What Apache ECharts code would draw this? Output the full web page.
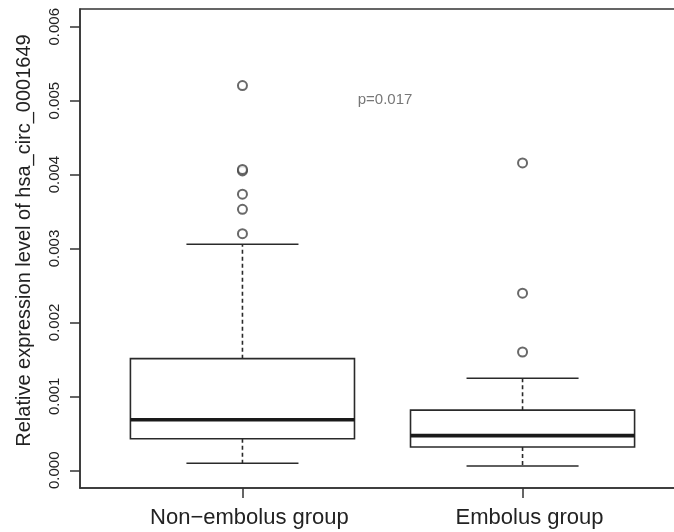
<!DOCTYPE html>
<html>
<head>
<meta charset="utf-8">
<script src="https://cdn.jsdelivr.net/npm/echarts@6/dist/echarts.min.js"></script>
<style>
html,body{margin:0;padding:0;background:#fff;}
#chart{width:674px;height:532px;}
</style>
</head>
<body>
<div id="chart"></div>
<script>
// ---- data ----
var categories = ['Non\u2212embolus group', 'Embolus group'];
// [lower whisker, Q1, median, Q3, upper whisker]
var nonEmbolusStats = [0.000094, 0.000427, 0.000684, 0.00151, 0.003057];
var embolusStats = [0.000058, 0.000314, 0.000468, 0.000813, 0.001245];
var nonEmbolusOutliers = [0.00320, 0.00353, 0.003735, 0.00405, 0.00407, 0.005204];
var embolusOutliers = [0.00160, 0.002396, 0.004157];
var yTicks = [0, 0.001, 0.002, 0.003, 0.004, 0.005, 0.006];
var pLabel = 'p=0.017';

var boxData = [[1].concat(nonEmbolusStats), [2].concat(embolusStats)];
var outlierData = nonEmbolusOutliers.map(function (v) { return [1, v]; })
  .concat(embolusOutliers.map(function (v) { return [2, v]; }));

var stroke = '#2a2a2a';
function renderBox(params, api) {
  var x = api.value(0);
  var lo = api.coord([x, api.value(1)]);
  var q1 = api.coord([x, api.value(2)]);
  var md = api.coord([x, api.value(3)]);
  var q3 = api.coord([x, api.value(4)]);
  var hi = api.coord([x, api.value(5)]);
  var w = api.size([0.8, 0])[0];
  var cw = w / 2;
  var cx = q1[0];
  var lineStyle = { stroke: stroke, lineWidth: 1.6, fill: null };
  var dashStyle = { stroke: stroke, lineWidth: 1.6, lineDash: [4, 3] };
  return {
    type: 'group',
    children: [
      { type: 'line', shape: { x1: cx, y1: q3[1], x2: cx, y2: hi[1] }, style: dashStyle },
      { type: 'line', shape: { x1: cx, y1: q1[1], x2: cx, y2: lo[1] }, style: dashStyle },
      { type: 'line', shape: { x1: cx - cw / 2, y1: hi[1], x2: cx + cw / 2, y2: hi[1] }, style: lineStyle },
      { type: 'line', shape: { x1: cx - cw / 2, y1: lo[1], x2: cx + cw / 2, y2: lo[1] }, style: lineStyle },
      { type: 'rect', shape: { x: cx - w / 2, y: q3[1], width: w, height: q1[1] - q3[1] }, style: { stroke: stroke, lineWidth: 1.6, fill: '#fff' } },
      { type: 'line', shape: { x1: cx - w / 2, y1: md[1], x2: cx + w / 2, y2: md[1] }, style: { stroke: '#1a1a1a', lineWidth: 3.6 } }
    ]
  };
}

var chart = echarts.init(document.getElementById('chart'), null, { renderer: 'canvas' });
var font = '"Liberation Sans", Arial, sans-serif';
chart.setOption({
  animation: false,
  backgroundColor: '#fff',
  textStyle: { fontFamily: font },
  grid: { left: 80, top: 9, width: 605, height: 479, outerBoundsMode: 'none', containLabel: false,
    show: true, borderColor: '#333', borderWidth: 1.5, backgroundColor: 'transparent' },
  xAxis: {
    type: 'value', min: 0.42, max: 2.58,
    splitLine: { show: false },
    axisLine: { show: true, onZero: false, lineStyle: { color: '#333', width: 1.5 } },
    axisTick: { show: true, customValues: [1, 2], length: 10, lineStyle: { color: '#333', width: 1.5 } },
    axisLabel: { customValues: [1, 2], formatter: function (v) { return categories[Math.round(v) - 1]; },
      fontSize: 22, color: '#222', margin: 19, padding: [0, 0, 0, 14], fontFamily: font }
  },
  yAxis: {
    type: 'value', min: -0.00024, max: 0.00624,
    name: 'Relative expression level of hsa_circ_0001649',
    nameLocation: 'middle', nameGap: 46, nameRotate: 90,
    nameTextStyle: { fontSize: 20, color: '#222', fontFamily: font, padding: [0, 0, 0, 16] },
    splitLine: { show: false },
    axisLine: { show: true, onZero: false, lineStyle: { color: '#333', width: 1.5 } },
    axisTick: { show: true, customValues: yTicks, length: 10, lineStyle: { color: '#333', width: 1.5 } },
    axisLabel: { customValues: yTicks, rotate: 90, formatter: function (v) { return v.toFixed(3); }, fontSize: 15, color: '#222', margin: 18, fontFamily: font }
  },
  series: [
    { type: 'custom', renderItem: renderBox, data: boxData, encode: { x: 0, y: [1, 2, 3, 4, 5] }, z: 2 },
    { type: 'scatter', data: outlierData, symbol: 'emptyCircle', symbolSize: 9,
      itemStyle: { color: '#444', borderColor: '#444', borderWidth: 1 }, z: 3 }
  ],
  graphic: [
    { type: 'text', x: 385, y: 100, style: { text: pLabel, fill: '#777', font: '15px ' + font, textAlign: 'center', textVerticalAlign: 'middle' } }
  ]
});
</script>
</body>
</html>
